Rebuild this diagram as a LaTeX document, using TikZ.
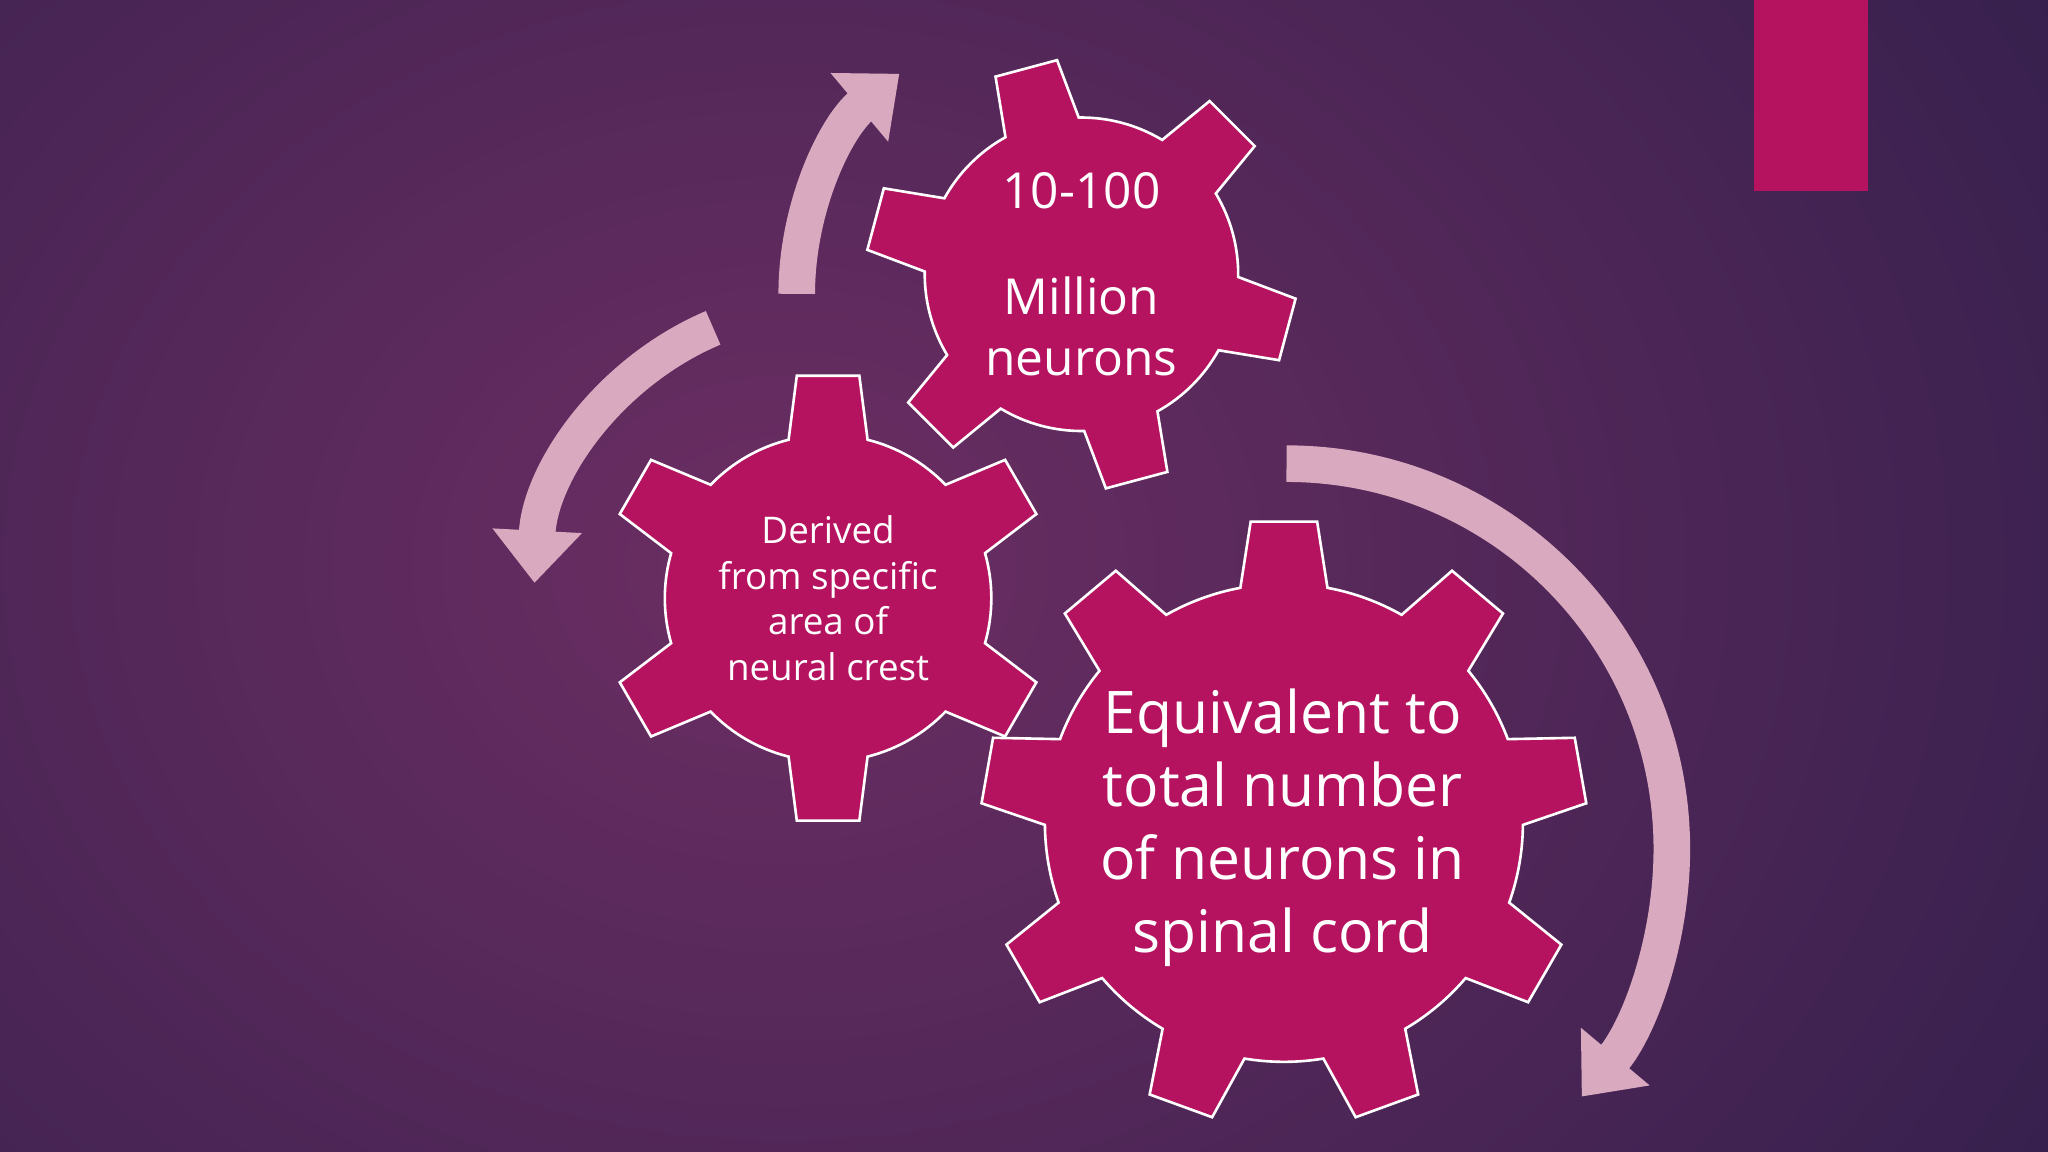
\documentclass[tikz,border=0pt]{standalone}
\usepackage{fontspec}
\setmainfont{Open Sans}
\usetikzlibrary{arrows.meta}
\definecolor{mag}{HTML}{B5135F}
\definecolor{pinkarrow}{HTML}{D9AABF}
\definecolor{bgin}{HTML}{6C2E63}
\definecolor{bgout}{HTML}{2E1E4A}
\tikzset{
  gearfill/.style={fill=mag,draw=white,line width=0.02cm,line join=miter},
  cyc/.style={draw=pinkarrow,line width=0.28cm,-{Triangle[width=0.66cm,length=0.4cm]}},
  gtext/.style={text=white,align=center,inner sep=0pt}
}
\newcommand{\mygear}[8]{% cx cy n start R r ht hb
  \begin{scope}[shift={(#1,#2)}]
  \draw[gearfill] (#4-#8:#6)
   \foreach \k [evaluate=\k as \a using #4+(\k-1)*360/#3,
                evaluate=\k as \b using #4+\k*360/#3] in {1,...,#3}{
     -- (\a-#7:#5) -- (\a+#7:#5) -- (\a+#8:#6)
     arc[start angle=\a+#8, end angle=\b-#8, radius=#6]
   } -- cycle;
  \end{scope}}
\begin{document}
\begin{tikzpicture}[x=0.01cm,y=0.01cm]
\useasboundingbox (0,0) rectangle (1568,882);
\shade[inner color=bgin,outer color=bgout] (-700,-600) rectangle (1900,1500);
\clip (0,0) rectangle (1568,882);
\fill[mag] (1343,736) rectangle (1430,882);
% gears
\mygear{983}{252}{9}{90}{232}{183}{6.3}{10.5}
\mygear{634}{424}{6}{90}{172}{125}{8}{14}
\mygear{828}{672}{6}{105}{165}{120}{8.5}{14}
% arrows
\draw[cyc] (610,657) arc[start angle=180,end angle=130,radius=220];
\draw[cyc] (546,631) arc[start angle=113,end angle=177,radius=225];
\draw[cyc] (985,527) arc[start angle=90,end angle=-40,radius=295];
% texts
\node[gtext,font=\fontsize{10.8}{13.2}\selectfont] (t1) at (828,672) {10-100\\[0.35cm]Million\\neurons};
\node[gtext,font=\fontsize{8}{9.9}\selectfont] (t2) at (634,424) {Derived\\from specific\\area of\\neural crest};
\node[gtext,font=\fontsize{12.8}{15.9}\selectfont] (t3) at (982,248) {Equivalent to\\total number\\of neurons in\\spinal cord};
\end{tikzpicture}
\end{document}
